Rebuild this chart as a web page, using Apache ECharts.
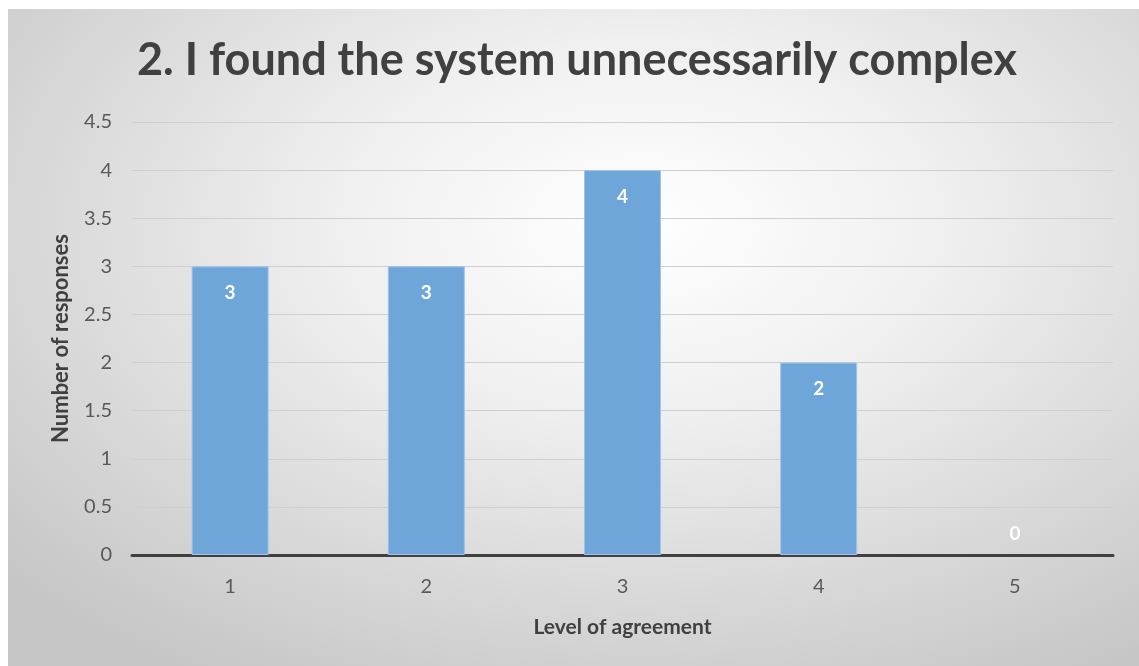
<!DOCTYPE html>
<html>
<head>
<meta charset="utf-8">
<script src="https://cdn.jsdelivr.net/npm/echarts@6/dist/echarts.min.js"></script>
<style>
  html, body { margin: 0; padding: 0; background: #fff; }
  #chart {
    position: absolute; left: 8px; top: 9px;
    width: 1131px; height: 657px;
    background: radial-gradient(ellipse 75% 80% at 56% 33%, #ffffff 0%, #f0f0f0 35%, #d6d6d6 75%, #c6c6c6 100%);
  }
</style>
</head>
<body>
<div id="chart"></div>
<script>
// data
const categories = ['1', '2', '3', '4', '5']
const responses = [3, 3, 4, 2, 0]
const titleText = '2. I found the system unnecessarily complex'

const chart = echarts.init(document.getElementById('chart'))
const font = 'Lato, "Open Sans", sans-serif'

const option = {
  backgroundColor: 'transparent',
  title: {
    text: titleText,
    left: 564, top: 24, textAlign: 'center',
    textStyle: { fontFamily: font, fontSize: 45, fontWeight: 'bold', color: '#404040' }
  },
  grid: { left: 124, right: 26, top: 113, bottom: 111 },
  xAxis: {
    type: 'category',
    data: categories,
    name: 'Level of agreement',
    nameLocation: 'middle',
    nameGap: 62,
    nameTextStyle: { fontFamily: font, fontSize: 21, fontWeight: 'bold', color: '#404040' },
    axisLine: { lineStyle: { color: '#404040', width: 3 } },
    axisTick: { show: false },
    axisLabel: { fontFamily: font, fontSize: 20, color: '#595959', margin: 22 }
  },
  yAxis: {
    type: 'value',
    min: 0, max: 4.5, interval: 0.5,
    name: 'Number of responses',
    nameLocation: 'middle',
    nameGap: 60,
    nameTextStyle: { fontFamily: font, fontSize: 22, fontWeight: 'bold', color: '#404040' },
    axisLine: { show: false },
    axisTick: { show: false },
    axisLabel: { fontFamily: font, fontSize: 20, color: '#595959', margin: 20 },
    splitLine: { lineStyle: { color: '#cfcfcf', width: 1 } }
  },
  series: [{
    type: 'bar',
    barWidth: 77,
    data: responses.map(v => v === 0
      ? { value: v, itemStyle: { borderWidth: 0 }, label: { position: 'top', distance: 12 } }
      : v),
    itemStyle: { color: '#6ea6da', borderColor: '#9fc4e8', borderWidth: 1 },
    label: {
      show: true,
      position: 'insideTop',
      distance: 17,
      fontFamily: font, fontSize: 19, fontWeight: 'bold', color: '#ffffff'
    }
  }]
}

chart.setOption(option)
</script>
</body>
</html>
